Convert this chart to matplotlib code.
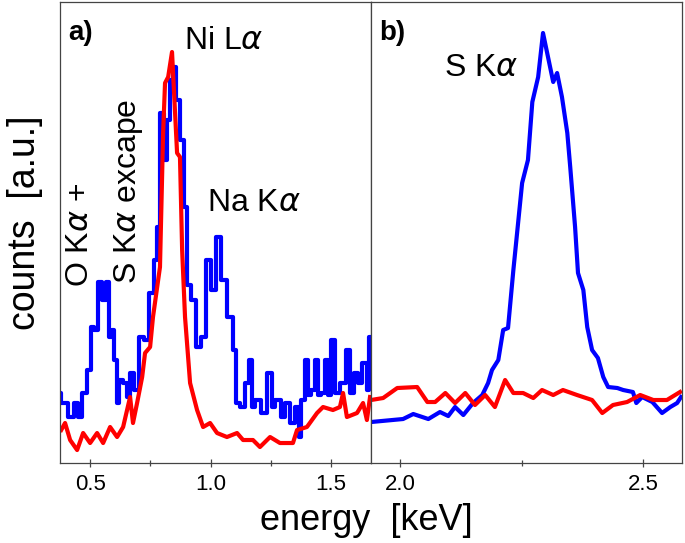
import numpy as np
import matplotlib.pyplot as plt

plt.rcParams['font.family'] = ['Liberation Sans', 'DejaVu Sans']
plt.rcParams['mathtext.fontset'] = 'dejavusans'

# panel a) low energy range, blue sample
ea_blue = [0.376, 0.384, 0.396, 0.421, 0.442, 0.459, 0.471, 0.500, 0.504, 0.525,
           0.541, 0.558, 0.575, 0.583, 0.595, 0.604, 0.616, 0.624, 0.645, 0.658,
           0.670, 0.691, 0.712, 0.732, 0.753, 0.774, 0.782, 0.799, 0.811, 0.824,
           0.836, 0.849, 0.865, 0.882, 0.894, 0.907, 0.927, 0.948, 0.969, 0.990,
           1.010, 1.031, 1.052, 1.081, 1.102, 1.110, 1.135, 1.151, 1.164, 1.176,
           1.197, 1.218, 1.247, 1.259, 1.280, 1.301, 1.317, 1.342, 1.363, 1.371,
           1.384, 1.400, 1.413, 1.425, 1.442, 1.454, 1.467, 1.483, 1.496, 1.508,
           1.525, 1.550, 1.571, 1.587, 1.608, 1.620, 1.641, 1.654, 1.662]
ca_blue = [70, 60, 60, 46, 60, 46, 70, 93, 136, 133,
           181, 163, 181, 126, 133, 103, 60, 83, 80, 66,
           90, 73, 126, 123, 170, 203, 236, 350, 303, 343,
           383, 396, 363, 323, 256, 178, 163, 116, 126, 203,
           173, 226, 183, 146, 113, 60, 56, 80, 103, 56,
           63, 50, 90, 56, 63, 46, 60, 40, 56, 26,
           63, 103, 68, 73, 103, 68, 70, 103, 68, 123,
           70, 80, 113, 70, 90, 80, 100, 73, 126]

# panel a) red sample
ea_red = [0.380, 0.396, 0.417, 0.446, 0.471, 0.500, 0.529, 0.554, 0.583, 0.612,
          0.637, 0.666, 0.678, 0.695, 0.716, 0.728, 0.749, 0.761, 0.790, 0.803,
          0.811, 0.824, 0.840, 0.861, 0.873, 0.882, 0.894, 0.915, 0.944, 0.969,
          0.998, 1.027, 1.068, 1.110, 1.135, 1.176, 1.205, 1.247, 1.288, 1.342,
          1.359, 1.400, 1.442, 1.467, 1.508, 1.537, 1.550, 1.566, 1.608, 1.633,
          1.649, 1.662]
ca_red = [33, 40, 23, 13, 30, 20, 30, 20, 36, 26,
          36, 66, 40, 60, 86, 110, 116, 146, 196, 330,
          380, 386, 411, 310, 306, 213, 146, 80, 53, 36,
          40, 30, 26, 30, 23, 23, 16, 26, 20, 20,
          33, 36, 50, 56, 53, 56, 70, 46, 50, 60,
          43, 66]

# panel b) S K-alpha range
eb_blue = [1.940, 2.006, 2.027, 2.058, 2.082, 2.099, 2.113, 2.130, 2.150, 2.169,
           2.181, 2.189, 2.202, 2.212, 2.222, 2.233, 2.251, 2.263, 2.272, 2.284,
           2.294, 2.315, 2.323, 2.333, 2.344, 2.350, 2.360, 2.366, 2.377, 2.385,
           2.395, 2.407, 2.418, 2.428, 2.447, 2.459, 2.479, 2.486, 2.498, 2.519,
           2.539, 2.556, 2.570, 2.578]
cb_blue = [41, 44, 49, 44, 51, 47, 56, 48, 60, 68,
           80, 93, 103, 133, 135, 193, 280, 303, 361, 386,
           430, 381, 390, 366, 330, 296, 236, 190, 173, 136,
           113, 105, 86, 76, 75, 73, 71, 60, 66, 61,
           50, 56, 60, 66]

eb_red = [1.940, 1.965, 1.994, 2.035, 2.056, 2.072, 2.093, 2.113, 2.134, 2.154,
          2.175, 2.195, 2.216, 2.233, 2.253, 2.274, 2.292, 2.315, 2.335, 2.364,
          2.395, 2.416, 2.438, 2.467, 2.494, 2.521, 2.549, 2.576]
cb_red = [63, 65, 75, 76, 61, 61, 70, 60, 70, 58,
          68, 56, 83, 70, 70, 65, 73, 68, 73, 68,
          63, 50, 58, 61, 68, 63, 63, 71]

fig = plt.figure(figsize=(6.85, 5.43), dpi=100)
ax1 = fig.add_axes([0.0876, 0.1473, 0.4540, 0.8490])
ax2 = fig.add_axes([0.5416, 0.1473, 0.4540, 0.8490])

ax1.plot(ea_blue, ca_blue, color='#0000ff', lw=3, drawstyle='steps-mid')
ax1.plot(ea_red, ca_red, color='#ff0000', lw=3)
ax2.plot(eb_blue, cb_blue, color='#0000ff', lw=3)
ax2.plot(eb_red, cb_red, color='#ff0000', lw=3)

ax1.set_xlim(0.375, 1.666)
ax2.set_xlim(1.94, 2.58)
for ax in (ax1, ax2):
    ax.set_ylim(0, 461)
    ax.set_yticks([])
    for s in ax.spines.values():
        s.set_color('#444444')
        s.set_linewidth(0.9)
    ax.tick_params(axis='x', direction='inout', length=6, width=0.9,
                   color='#444444', labelsize=16, pad=5)
    ax.tick_params(axis='x', which='minor', direction='inout', length=4, width=0.9,
                   color='#444444')

ax1.set_xticks([0.5, 1.0, 1.5])
ax1.set_xticks([0.75, 1.25], minor=True)
ax2.set_xticks([2.0, 2.5])
ax2.set_xticks([2.25], minor=True)

ax1.text(0.025, 0.962, 'a)', transform=ax1.transAxes, fontsize=20,
         fontweight='bold', va='top')
ax2.text(0.025, 0.962, 'b)', transform=ax2.transAxes, fontsize=20,
         fontweight='bold', va='top')

ax1.text(0.89, 407, r'Ni L$\alpha$', fontsize=23, va='bottom')
ax1.text(0.985, 245, r'Na K$\alpha$', fontsize=23, va='bottom')
ax1.text(0.460, 228, r'O K$\alpha$ +', fontsize=23, rotation=90,
         ha='center', va='center')
ax1.text(0.660, 272, r'S K$\alpha$ excape', fontsize=23, rotation=90,
         ha='center', va='center')
ax2.text(2.090, 380, r'S K$\alpha$', fontsize=23, va='bottom')

fig.text(0.535, 0.042, 'energy  [keV]', fontsize=26, ha='center', va='center')
fig.text(0.036, 0.59, 'counts  [a.u.]', fontsize=27, ha='center', va='center',
         rotation=90)

fig.savefig('out.png', dpi=100)
